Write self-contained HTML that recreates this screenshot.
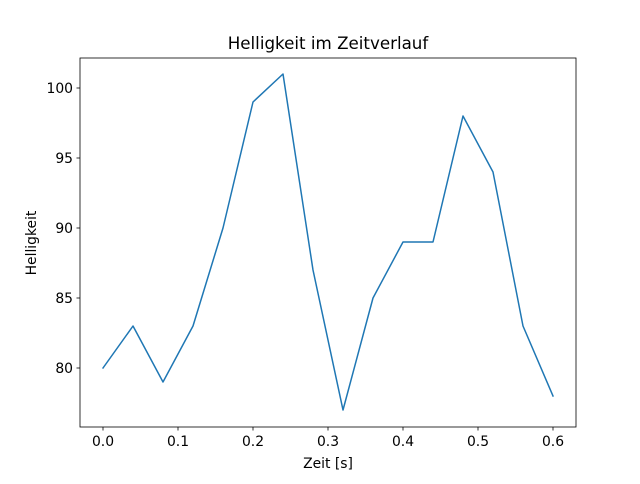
<!DOCTYPE html>
<html><head><meta charset="utf-8"><style>
body{margin:0;background:#fff;font-family:"DejaVu Sans","Liberation Sans",sans-serif;}
svg text{font-family:"DejaVu Sans","Liberation Sans",sans-serif;fill:#000;}
</style></head><body>
<svg id="chart" width="640" height="480">
<rect width="640" height="480" fill="#fff"/>
<g id="g"></g>
</svg>
<script>
const times=[0,0.04,0.08,0.12,0.16,0.2,0.24,0.28,0.32,0.36,0.4,0.44,0.48,0.52,0.56,0.6];
const brightness=[80,83,79,83,90,99,101,87,77,85,89,89,98,94,83,78];
const xTicks=[0.0,0.1,0.2,0.3,0.4,0.5,0.6];
const yTicks=[80,85,90,95,100];
const ns="http://www.w3.org/2000/svg";
const g=document.getElementById('g');
const X=v=>103+v*750;
const Y=v=>368-(v-80)*14;
function mk(t,a,parent){const e=document.createElementNS(ns,t);for(const k in a)e.setAttribute(k,a[k]);(parent||g).appendChild(e);return e;}
const frame=mk('rect',{x:80,y:58,width:496,height:369,fill:'none',stroke:'#000','stroke-width':0.8});


xTicks.forEach(v=>{
 const l=mk('line',{x1:X(v),x2:X(v),y1:427,y2:430.5,stroke:'#000','stroke-width':0.8});
 
 
 const t=mk('text',{x:X(v),y:446,'text-anchor':'middle','font-size':13.9});
 t.textContent=v.toFixed(1);
 
 
});
yTicks.forEach(v=>{
 const l=mk('line',{x1:76.5,x2:80,y1:Y(v),y2:Y(v),stroke:'#000','stroke-width':0.8});
 
 
 const t=mk('text',{x:73,y:Y(v)+5,'text-anchor':'end','font-size':13.9});
 t.textContent=v;
 
 
});
const line=mk('polyline',{points:times.map((t,i)=>X(t)+','+Y(brightness[i])).join(' '),fill:'none',stroke:'#1f77b4','stroke-width':1.5,'stroke-linejoin':'round','stroke-linecap':'square'});


const title=mk('text',{x:328,y:49,'text-anchor':'middle','font-size':16.7});
title.textContent='Helligkeit im Zeitverlauf';


const xl=mk('text',{x:328,y:468,'text-anchor':'middle','font-size':13.9});
xl.textContent='Zeit [s]';


const yl=mk('text',{x:36,y:243,'text-anchor':'middle','font-size':13.9,transform:'rotate(-90 36 243)'});
yl.textContent='Helligkeit';


</script>
</body></html>
